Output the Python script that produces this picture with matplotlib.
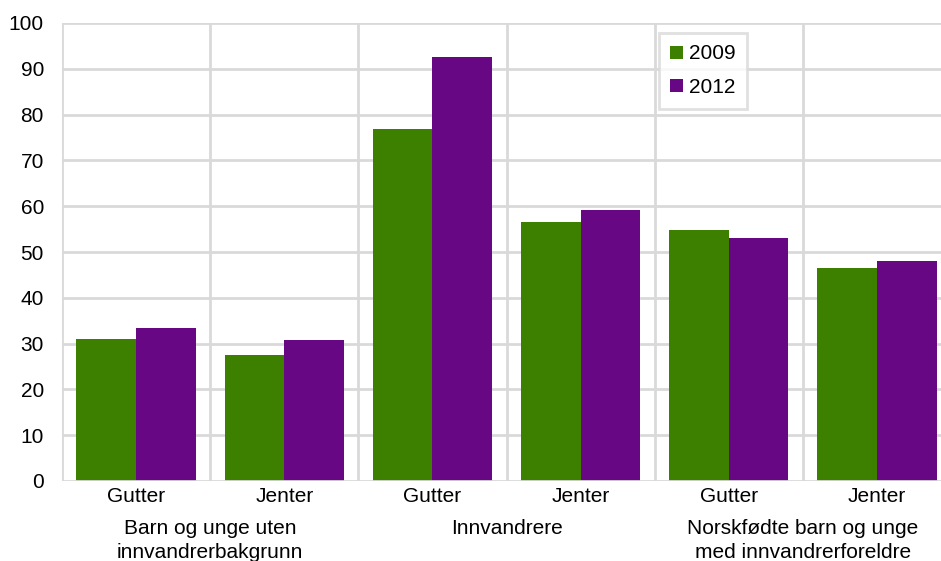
import numpy as np
import matplotlib.pyplot as plt
import matplotlib.transforms as mtransforms

plt.rcParams['font.family'] = ['Liberation Sans', 'DejaVu Sans']

sub_labels = ['Gutter', 'Jenter', 'Gutter', 'Jenter', 'Gutter', 'Jenter']
group_labels = ['Barn og unge uten\ninnvandrerbakgrunn', 'Innvandrere',
                'Norskfødte barn og unge\nmed innvandrerforeldre']
v2009 = [30.9, 27.6, 76.9, 56.6, 54.8, 46.6]
v2012 = [33.5, 30.8, 92.6, 59.2, 53.1, 48.0]

green = '#3d8000'
purple = '#680784'
grid_col = '#d9d9d9'
fs = 15

fig = plt.figure(figsize=(9.41, 5.61), dpi=100)
ax = fig.add_axes([62/941, 1-481/561, 889/941, 458/561])

x = np.arange(len(sub_labels))
w = 0.403
ax.bar(x - w/2, v2009, w, color=green, label='2009', zorder=3)
ax.bar(x + w/2, v2012, w, color=purple, label='2012', zorder=3)

ax.set_xlim(-0.5, len(sub_labels) - 0.5)
ax.set_ylim(0, 100)
ax.set_yticks(np.arange(0, 101, 10))
ax.tick_params(axis='y', length=0, pad=13, labelsize=fs)
ax.set_xticks([])

for y in range(10, 101, 10):
    ax.axhline(y, color=grid_col, lw=2, zorder=1)
for b in np.arange(-0.5, len(sub_labels), 1.0):
    ax.axvline(b, color=grid_col, lw=2, zorder=1)
for s in ax.spines.values():
    s.set_visible(False)
ax.axhline(0, color=grid_col, lw=2, zorder=4)

trans = mtransforms.blended_transform_factory(ax.transData, fig.transFigure)
for i, lab in enumerate(sub_labels):
    ax.text(i, 1-497/561, lab, transform=trans, ha='center', va='center',
            fontsize=fs, clip_on=False)
for g, lab in enumerate(group_labels):
    ax.text(2*g + 0.5, 1-519/561, lab, transform=trans, ha='center', va='top',
            fontsize=fs, linespacing=1.3, clip_on=False)

leg = ax.legend(loc='upper left', bbox_to_anchor=((659-62)/889, 1-10/458),
                fontsize=fs, frameon=True, fancybox=False,
                handlelength=0.6, handleheight=0.6, handletextpad=0.3,
                labelspacing=0.7, borderpad=0.55, borderaxespad=0)
leg.get_frame().set_edgecolor(grid_col)
leg.get_frame().set_linewidth(2)

plt.savefig('out.png', dpi=100)
